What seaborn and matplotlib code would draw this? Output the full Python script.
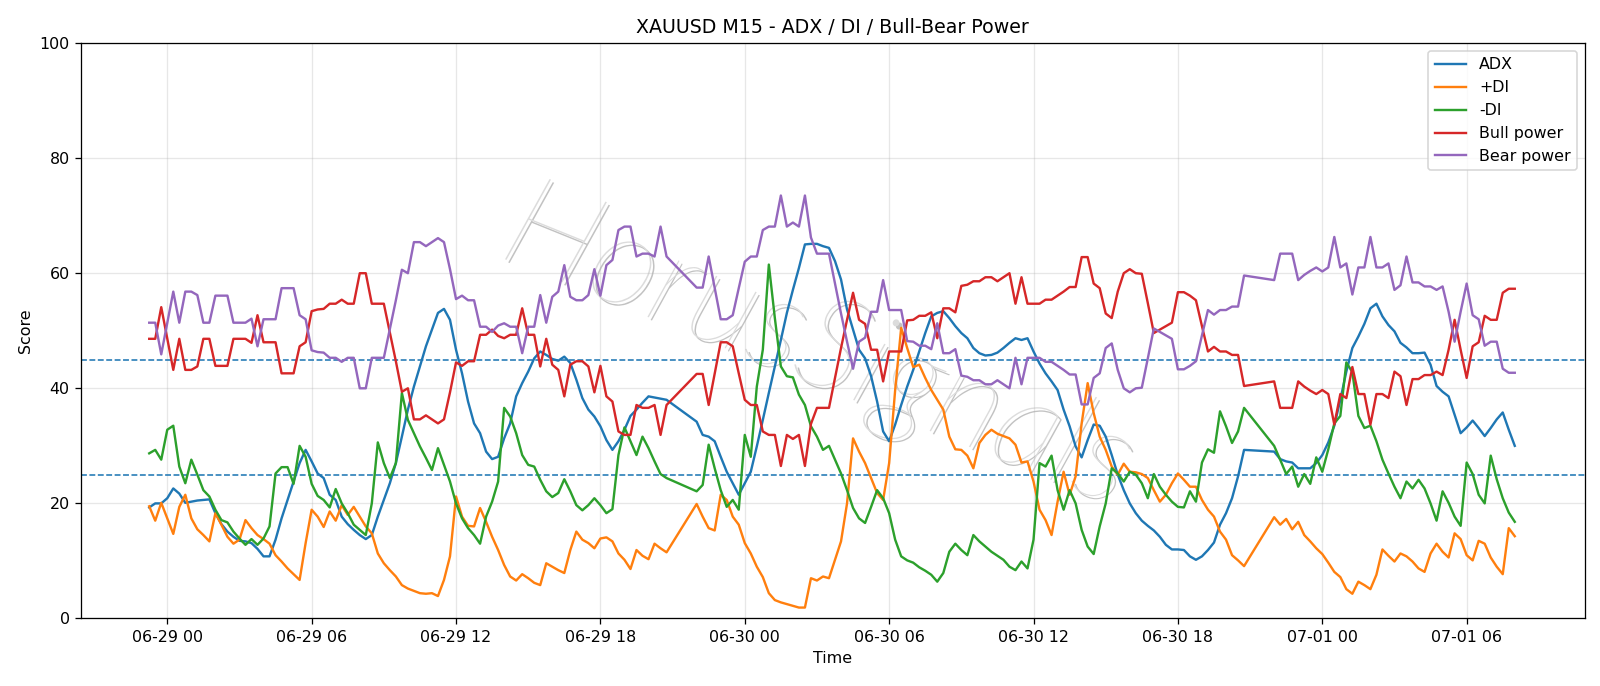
import numpy as np
import pandas as pd
import matplotlib
matplotlib.use("Agg")
import matplotlib.pyplot as plt
import matplotlib.dates as mdates
import matplotlib.patheffects as pe
import seaborn as sns

# M15 bars, 06-28 23:15 -> 07-01 08:00, daily break 21:00-21:45 has no bars
start, end = "2025-06-28 23:15", "2025-07-01 08:00"
breaks = [("2025-06-29 21:00", "2025-06-29 21:45"),
          ("2025-06-30 21:00", "2025-06-30 21:45")]

adx = [19.3, 20.0, 20.0, 20.9, 22.6, 21.7, 20.1, 20.3, 20.5, 20.6, 20.7, 18.3, 16.4, 15.1, 14.2,
       13.5, 13.4, 13.1, 12.1, 10.8, 10.8, 13.7, 17.4, 20.6, 23.8, 27.0, 29.3, 27.3, 25.2,
       24.4, 21.5, 20.6, 17.7, 16.4, 15.4, 14.5, 13.8, 14.5, 17.7, 20.6, 23.5, 27.0, 31.6, 36.3,
       40.3, 43.8, 47.3, 50.2, 53.1, 53.8, 51.9, 46.7, 42.6, 37.7, 33.9, 32.2, 29.0, 27.7, 28.1,
       31.3, 33.9, 38.6, 40.9, 42.9, 45.2, 46.4, 45.8, 45.1, 44.8, 45.5, 44.4, 41.5, 38.3,
       36.3, 35.1, 33.4, 31.0, 29.3, 30.8, 32.8, 35.2, 36.3, 37.5, 38.6, 38.4, 38.2, 38.0,
       34.2, 31.9, 31.6, 30.8, 28.1, 25.5, 23.5, 21.5, 23.5, 25.5, 29.9, 34.5, 39.2, 43.8,
       48.4, 53.1, 57.1, 60.9, 65.0, 65.1, 65.1, 64.7, 64.4, 62.1, 58.9, 53.7, 50.2, 46.7,
       45.2, 42.1, 37.7, 32.5, 30.8, 33.7, 37.1, 40.3, 43.2, 46.4, 49.6, 52.5, 53.1, 53.4, 52.2,
       50.8, 49.6, 48.7, 47.0, 46.1, 45.7, 45.8, 46.2, 47.0, 47.9, 48.7, 48.4, 48.7, 46.4, 44.3,
       42.6, 41.2, 39.7, 36.3, 33.4, 29.9, 28.0, 31.0, 33.7, 33.5, 31.6, 28.4, 25.0, 22.3, 20.0,
       18.3, 17.0, 16.1, 15.3, 14.2, 12.8, 12.0, 12.0, 11.9, 10.8, 10.2, 10.8, 11.9, 13.2, 16.3,
       18.3, 20.9, 24.7, 29.3,
       29.0, 27.7, 27.3, 27.1, 26.1, 26.1, 26.1, 27.0, 28.4, 30.6, 33.5, 38.0, 42.9, 47.0, 49.0,
       51.2, 53.9, 54.7, 52.5, 51.0, 49.9, 47.9,
       47.1, 46.1, 46.1, 46.2, 44.1, 40.4, 39.4, 38.6, 35.4, 32.2, 33.2, 34.4, 33.1, 31.7, 33.1,
       34.6, 35.8, 32.8, 30.0]

plus_di = [19.5, 17.0, 20.1, 17.4, 14.7, 19.4, 21.5, 17.4, 15.5, 14.5, 13.4, 18.3, 16.3, 14.2,
           13.0, 13.7, 17.1, 15.7, 14.5, 13.8, 13.0, 11.0, 9.9, 8.7, 7.7, 6.7, 13.1, 18.9, 17.7,
           15.9, 18.6, 17.0, 19.7, 18.0, 19.4, 17.7, 16.0, 14.8, 11.3, 9.6, 8.4, 7.3, 5.8, 5.2,
           4.8, 4.4, 4.3, 4.4, 3.9, 6.7, 10.8, 21.2, 17.7, 16.1, 16.0, 19.2, 16.8, 14.2, 11.9,
           9.3, 7.3, 6.6, 7.7, 7.0, 6.2, 5.8, 9.6, 9.0, 8.4, 7.9, 11.9, 15.1, 13.7, 13.1, 12.2,
           13.9, 14.1, 13.4, 11.3, 10.2, 8.6, 11.9, 10.9, 10.3, 13.0, 12.2, 11.5,
           19.9, 17.7, 15.7, 15.3, 21.5, 20.6, 17.7, 16.3, 13.1, 11.3, 9.0, 7.2, 4.4, 3.2, 2.8,
           2.5, 2.2, 1.9, 1.9, 7.0, 6.6, 7.3, 7.0, 10.2, 13.4, 20.0, 31.3, 29.0,
           27.0, 24.4, 21.8, 20.6, 27.0, 39.7, 50.5, 47.0, 43.7, 44.1, 41.8, 39.7, 38.0, 36.3,
           31.6, 29.4, 29.3, 28.3, 26.1, 30.5, 31.9, 32.8, 32.1, 31.7, 31.3, 30.2, 27.1, 27.3,
           23.8, 18.9,
           17.1, 14.5, 20.3, 25.5, 21.5, 24.7, 33.9, 40.9, 35.7, 31.6, 29.3, 26.4, 25.0, 26.9,
           25.5, 25.4, 25.1, 24.4, 22.3, 20.3, 21.5, 23.5, 25.2, 24.1, 22.9, 22.9, 20.6, 18.9,
           17.7, 15.1,
           13.7, 11.0, 10.1, 9.1,
           17.6, 16.3, 17.3, 15.5, 16.8, 14.5, 13.4, 12.2, 11.2, 9.7, 8.1, 7.2, 5.1, 4.3, 6.4,
           5.8, 5.1, 7.6, 12.0, 10.9, 9.9, 11.3,
           10.8, 9.9, 8.7, 8.1, 11.3, 13.0, 11.6, 10.6, 14.8, 13.8, 11.0, 10.1, 13.5, 13.0, 10.6,
           9.0, 7.7, 15.7, 14.3]

minus_di = [28.7, 29.3, 27.6, 32.8, 33.5, 26.4, 23.5, 27.6, 25.0, 22.3, 21.2, 18.9, 17.1, 16.7,
            15.1, 13.9, 12.8, 13.8, 12.8, 13.9, 16.0, 25.2, 26.3, 26.3, 23.4, 30.0, 28.1, 23.4,
            21.3,
            20.6, 19.3, 22.5, 20.0, 18.3, 16.3, 15.4, 14.5, 20.0, 30.6, 27.0, 24.4, 27.0, 39.2,
            34.5, 32.2, 29.9, 27.9, 25.8, 29.6, 26.7, 23.8, 20.0, 17.4, 15.7, 14.5, 13.0, 17.7,
            20.3, 23.8,
            36.6, 35.1, 32.2, 28.4, 26.7, 26.4, 24.1, 22.1, 21.1, 21.8, 24.2, 22.1, 19.7, 18.8,
            19.7, 20.9, 19.7, 18.3, 19.0, 28.4, 33.2, 30.8, 28.4, 31.6, 29.6, 27.3, 25.1, 24.4,
            22.1, 23.2, 30.2, 26.1, 22.3, 19.4, 20.6, 18.9, 31.9, 28.1, 40.3, 46.7, 61.5, 52.2,
            43.8, 42.1, 41.9, 38.9, 37.1, 33.4, 31.6, 29.3, 30.0, 27.6, 25.2, 22.3, 19.2, 17.4,
            16.6, 19.4, 22.3, 20.9, 18.3, 13.7, 10.8, 10.1, 9.7, 8.9, 8.3, 7.6, 6.4, 7.9, 11.6,
            13.0, 11.9, 11.0, 14.5, 13.4, 12.5, 11.6, 10.9, 10.2, 9.0, 8.4, 9.9, 8.7, 13.7, 27.0,
            26.4, 28.3, 22.3, 18.9, 22.3, 20.0, 15.4, 12.5, 11.2, 16.0, 20.0, 26.1, 25.2, 23.8,
            25.5, 25.0, 23.5, 20.9, 25.1, 22.9, 21.5, 20.3, 19.4, 19.3, 22.1, 20.3, 27.1, 29.4,
            28.8, 36.0,
            33.4, 30.5, 32.5, 36.6,
            30.0, 27.6, 25.1, 26.4, 22.9, 25.1, 23.4, 28.0, 25.5, 29.4, 33.9, 35.2, 44.5, 42.8,
            35.2, 33.1, 33.5, 30.8, 27.6, 25.2, 22.9, 20.9,
            23.8, 22.6, 24.1, 22.6, 20.0, 17.0, 22.1, 20.1, 17.7, 16.1, 27.1, 25.1, 21.5, 20.0,
            28.3, 24.2, 20.9, 18.4, 16.8]

bull = [48.6, 48.6, 54.1, 48.7, 43.2, 48.6, 43.2, 43.2, 43.8, 48.6, 48.6, 43.9, 43.9, 43.9,
        48.6, 48.6, 48.6, 47.9, 52.7, 48.0, 48.0, 48.0, 42.6, 42.6, 42.6, 47.3, 48.0, 53.4, 53.7,
        53.8, 54.7, 54.7, 55.4, 54.7, 54.7, 60.0, 60.0, 54.7, 54.7, 54.7, 49.7, 44.7, 39.4, 40.0,
        34.6, 34.6, 35.3, 34.6, 33.9, 34.6, 39.3, 44.5, 43.9, 44.7, 44.7, 49.3, 49.3, 50.2, 49.1,
        48.7, 49.3, 49.3, 53.9, 49.3, 49.3, 43.8, 48.6, 44.1, 43.2, 38.6, 44.1, 44.7, 44.7,
        43.8, 39.3, 43.9, 38.6, 37.7, 32.5, 31.9, 31.9, 37.1, 36.6, 36.6, 37.1, 31.9, 37.1,
        42.5, 42.5, 37.1, 42.5, 48.0, 48.0, 47.3, 42.6, 38.0, 37.1, 37.1, 32.5, 31.9, 31.9,
        26.5, 31.9, 31.2, 31.9, 26.5, 33.8, 36.6, 36.6, 36.6, 41.8, 47.0, 51.9, 56.6, 51.9,
        51.2, 46.7, 46.7, 41.2, 46.4, 46.4, 46.4, 51.8, 51.9, 52.6, 52.6, 53.2, 48.7, 53.9, 53.9,
        53.2, 57.8, 58.0, 58.6, 58.6, 59.3, 59.3, 58.6, 59.3, 60.0, 54.7, 59.3, 54.7, 54.7, 54.7,
        55.4, 55.4, 56.1, 56.8, 57.6, 57.6, 62.8, 62.8, 58.2, 57.4, 53.0, 52.2, 56.8, 60.0, 60.7,
        60.0, 59.9, 54.8, 49.6, 50.2, 50.8, 51.4, 56.7, 56.7, 56.1, 55.3, 50.8, 46.4, 47.2, 46.4,
        46.4, 45.8, 45.8, 40.4,
        41.2, 36.6, 36.6, 36.6, 41.2, 40.3, 39.6, 39.0, 39.7, 39.0, 33.7, 39.0, 38.3, 43.7,
        39.0, 39.0, 33.7, 39.0, 39.0, 38.3, 42.9, 42.1,
        37.1, 41.6, 41.6, 42.3, 42.3, 42.9, 42.3, 46.7, 51.9, 46.7, 41.8, 47.3, 48.0, 52.6,
        51.9, 51.9, 56.6, 57.3, 57.3]

bear = [51.4, 51.4, 45.9, 51.3, 56.8, 51.4, 56.8, 56.8, 56.2, 51.4, 51.4, 56.1, 56.1, 56.1,
        51.4, 51.4, 51.4, 52.1, 47.3, 52.0, 52.0, 52.0, 57.4, 57.4, 57.4, 52.7, 52.0, 46.6, 46.3,
        46.2, 45.3, 45.3, 44.6, 45.3, 45.3, 40.0, 40.0, 45.3, 45.3, 45.3, 50.3, 55.3, 60.6, 60.0,
        65.4, 65.4, 64.7, 65.4, 66.1, 65.4, 60.7, 55.5, 56.1, 55.3, 55.3, 50.7, 50.7, 49.8, 50.9,
        51.3, 50.7, 50.7, 46.1, 50.7, 50.7, 56.2, 51.4, 55.9, 56.8, 61.4, 55.9, 55.3, 55.3,
        56.2, 60.7, 56.1, 61.4, 62.3, 67.5, 68.1, 68.1, 62.9, 63.4, 63.4, 62.9, 68.1, 62.9,
        57.5, 57.5, 62.9, 57.5, 52.0, 52.0, 52.7, 57.4, 62.0, 62.9, 62.9, 67.5, 68.1, 68.1,
        73.5, 68.1, 68.8, 68.1, 73.5, 66.2, 63.4, 63.4, 63.4, 58.2, 53.0, 48.1, 43.4, 48.1,
        48.8, 53.3, 53.3, 58.8, 53.6, 53.6, 53.6, 48.2, 48.1, 47.4, 47.4, 46.8, 51.3, 46.1, 46.1,
        46.8, 42.2, 42.0, 41.4, 41.4, 40.7, 40.7, 41.4, 40.7, 40.0, 45.3, 40.7, 45.3, 45.3, 45.3,
        44.6, 44.6, 43.9, 43.2, 42.4, 42.4, 37.2, 37.2, 41.8, 42.6, 47.0, 47.8, 43.2, 40.0, 39.3,
        40.0, 40.1, 45.2, 50.4, 49.8, 49.2, 48.6, 43.3, 43.3, 43.9, 44.7, 49.2, 53.6, 52.8, 53.6,
        53.6, 54.2, 54.2, 59.6,
        58.8, 63.4, 63.4, 63.4, 58.8, 59.7, 60.4, 61.0, 60.3, 61.0, 66.3, 61.0, 61.7, 56.3,
        61.0, 61.0, 66.3, 61.0, 61.0, 61.7, 57.1, 57.9,
        62.9, 58.4, 58.4, 57.7, 57.7, 57.1, 57.7, 53.3, 48.1, 53.3, 58.2, 52.7, 52.0, 47.4,
        48.1, 48.1, 43.4, 42.7, 42.7]

series_names = ["ADX", "+DI", "-DI", "Bull power", "Bear power"]

times = pd.date_range(start, end, freq="15min")
for b0, b1 in breaks:
    times = times[(times < pd.Timestamp(b0)) | (times > pd.Timestamp(b1))]

df = pd.DataFrame({"Time": times, "ADX": adx, "+DI": plus_di, "-DI": minus_di,
                   "Bull power": bull, "Bear power": bear})
long = df.melt(id_vars="Time", var_name="series", value_name="Score")

fig, ax = plt.subplots(figsize=(14, 6.0025), dpi=1600 / 14)
fig.subplots_adjust(left=0.0504, right=0.9906, top=0.9373, bottom=0.0984)

sns.lineplot(data=long, x="Time", y="Score", hue="series", hue_order=series_names,
             palette=sns.color_palette("tab10", 5), linewidth=1.5, ax=ax, zorder=3)

ax.axhline(45, ls="--", lw=1, color="tab:blue")
ax.axhline(25, ls="--", lw=1, color="tab:blue")

# watermark
ax.text(0.49, 0.47, "HorusSignals", transform=ax.transAxes, ha="center", va="center",
        rotation=-22, fontsize=82, family="Lato", fontstyle="italic", fontweight="light",
        color="#dcdcdc", zorder=1,
        path_effects=[pe.withSimplePatchShadow(offset=(2, -2), shadow_rgbFace="#9a9a9a", alpha=0.6)])

ax.set_xlim(pd.Timestamp("2025-06-28 20:24"), pd.Timestamp("2025-07-01 10:55"))
ax.set_ylim(0, 100)
ax.xaxis.set_major_locator(mdates.HourLocator(byhour=[0, 6, 12, 18]))
ax.xaxis.set_major_formatter(mdates.DateFormatter("%m-%d %H"))
ax.grid(True, alpha=0.3)
ax.set_title("XAUUSD M15 - ADX / DI / Bull-Bear Power")
ax.set_xlabel("Time")
ax.set_ylabel("Score")
sns.move_legend(ax, "upper right", title=None)

fig.savefig("out.png", dpi=fig.dpi)
